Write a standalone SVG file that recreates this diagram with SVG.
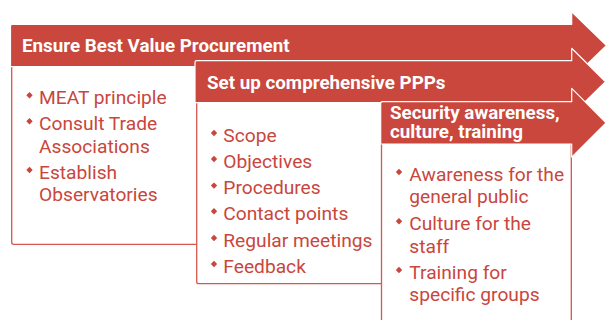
<svg xmlns="http://www.w3.org/2000/svg" width="608" height="320" viewBox="0 0 608 320">
<style>
.box{fill:#ffffff;stroke:#d6574d;stroke-width:1.3}
.arrow{fill:#c9473d;stroke:#ffffff;stroke-width:1.2;stroke-linejoin:round}
.title{font-family:Roboto,"Liberation Sans",sans-serif;font-weight:bold;font-size:18.8px;fill:#ffffff}
.item{font-family:Roboto,"Liberation Sans",sans-serif;font-size:19.2px;fill:#c9463d}
.dot{fill:#c9463d}
</style>
<defs>
<path id="d" d="M0,-3.2 L3.2,0 L0,3.2 L-3.2,0 Z"/>
</defs>
<rect width="608" height="320" fill="#ffffff"/>
<g id="step1">
<rect class="box" x="11.7" y="60" width="559.6" height="184.3" rx="2"/>
<path class="arrow" d="M10.5,26 Q10.5,24.3 12.2,24.3 L571.7,24.3 L571.7,11.7 L606.5,45.5 L571.7,79.3 L571.7,66.7 L10.5,66.7 Z"/>
<text class="title" x="22" y="51.5">Ensure Best Value Procurement</text>
<use href="#d" class="dot" x="29.5" y="95.3"/>
<text class="item" x="39" y="104">MEAT principle</text>
<use href="#d" class="dot" x="29.5" y="121.3"/>
<text class="item" x="39" y="130">Consult Trade</text>
<text class="item" x="39" y="152.7">Associations</text>
<use href="#d" class="dot" x="29.5" y="170"/>
<text class="item" x="39" y="178.7">Establish</text>
<text class="item" x="39" y="200.7">Observatories</text>
</g>
<g id="step2">
<rect class="box" x="196.7" y="96" width="374.6" height="187.7" rx="2"/>
<path class="arrow" d="M195,62.4 Q195,60.7 196.7,60.7 L571.7,60.7 L571.7,48.3 L605.5,81.7 L571.7,115 L571.7,102.6 L195,102.6 Z"/>
<text class="title" x="207" y="89.3">Set up comprehensive PPPs</text>
<use href="#d" class="dot" x="214" y="133"/>
<text class="item" x="223.3" y="141.7">Scope</text>
<use href="#d" class="dot" x="214" y="159"/>
<text class="item" x="223.3" y="167.7">Objectives</text>
<use href="#d" class="dot" x="214" y="185.6"/>
<text class="item" x="223.3" y="194.3">Procedures</text>
<use href="#d" class="dot" x="214" y="211.3"/>
<text class="item" x="223.3" y="220">Contact points</text>
<use href="#d" class="dot" x="214" y="238"/>
<text class="item" x="223.3" y="246.7">Regular meetings</text>
<use href="#d" class="dot" x="214" y="264"/>
<text class="item" x="223.3" y="272.7">Feedback</text>
</g>
<g id="step3">
<rect class="box" x="381.5" y="138" width="189.8" height="200" rx="2"/>
<path class="arrow" d="M380.7,103.4 Q380.7,101.7 382.4,101.7 L571.7,101.7 L571.7,88.3 L606,122.8 L571.7,157.2 L571.7,144 L380.7,144 Z"/>
<text class="title" x="390" y="119.3">Security awareness,<tspan x="390" y="138.3">culture, training</tspan></text>
<use href="#d" class="dot" x="399" y="172"/>
<text class="item" x="409.3" y="180.7">Awareness for the</text>
<text class="item" x="409.3" y="203.3">general public</text>
<use href="#d" class="dot" x="399" y="221.3"/>
<text class="item" x="409.3" y="230">Culture for the</text>
<text class="item" x="409.3" y="252.7">staff</text>
<use href="#d" class="dot" x="399" y="270"/>
<text class="item" x="409.3" y="278.7">Training for</text>
<text class="item" x="409.3" y="300.7">specific groups</text>
</g>
<g id="connectors"></g>
</svg>
